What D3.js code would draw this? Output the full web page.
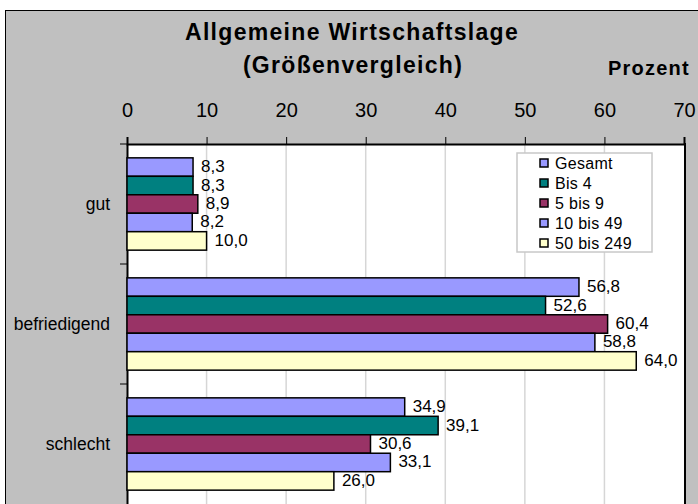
<!DOCTYPE html>
<html>
<head>
<meta charset="utf-8">
<script src="https://cdn.jsdelivr.net/npm/d3@7/dist/d3.min.js"></script>
<style>
body { margin: 0; background: #fff; }
text { font-family: "Liberation Sans", Arial, sans-serif; }
</style>
</head>
<body>
<div class="container"></div>
<script>
var categories = ['gut', 'befriedigend', 'schlecht'];
var seriesNames = ['Gesamt', 'Bis 4', '5 bis 9', '10 bis 49', '50 bis 249'];
var seriesColors = ['#9999ff', '#008080', '#993366', '#9999ff', '#ffffcc'];
var gesamt = [8.3, 56.8, 34.9];
var bis4 = [8.3, 52.6, 39.1];
var bis9 = [8.9, 60.4, 30.6];
var bis49 = [8.2, 58.8, 33.1];
var bis249 = [10.0, 64.0, 26.0];
var tickValues = [0, 10, 20, 30, 40, 50, 60, 70];

var seriesValues = [gesamt, bis4, bis9, bis49, bis249];

var width = 698,
	height = 504;

var svg = d3
	.select('.container')
	.append('svg')
	.attr('width', width)
	.attr('height', height);

// chart area
svg.append('rect')
	.attr('x', 5.5)
	.attr('y', 10.5)
	.attr('width', 700)
	.attr('height', 500)
	.attr('fill', '#c0c0c0')
	.attr('stroke', '#000')
	.attr('stroke-width', 1);

var x = d3.scaleLinear().domain([0, 70]).range([127, 684]);
var y = d3.scaleBand().domain(categories).range([144, 504]);
var inner = d3
	.scaleBand()
	.domain(d3.range(seriesNames.length))
	.range([0, y.bandwidth()])
	.paddingOuter(0.75)
	.paddingInner(0);

// plot area
svg.append('rect')
	.attr('x', x(0))
	.attr('y', 144)
	.attr('width', x(70) - x(0))
	.attr('height', 370)
	.attr('fill', '#fff');

// gridlines
svg.append('g')
	.selectAll('line')
	.data(tickValues.slice(1, -1))
	.enter()
	.append('line')
	.attr('x1', function(d) { return x(d); })
	.attr('x2', function(d) { return x(d); })
	.attr('y1', 144)
	.attr('y2', 504)
	.attr('stroke', '#d6d6d6')
	.attr('stroke-width', 1.5);

// top axis
var topAxis = svg
	.append('g')
	.attr('transform', 'translate(0,144)')
	.call(d3.axisTop(x).tickValues(tickValues).tickSize(7).tickPadding(20));
topAxis.select('.domain').attr('stroke', '#000').attr('stroke-width', 2);
topAxis.selectAll('.tick line').attr('stroke', '#000');
topAxis.selectAll('.tick text')
	.attr('font-size', 20)
	.attr('fill', '#000')
	.style('font-family', '"Liberation Sans", Arial, sans-serif');

// left axis
var leftAxis = svg
	.append('g')
	.attr('transform', 'translate(' + x(0) + ',0)')
	.call(d3.axisLeft(y).tickSize(0).tickPadding(17));
leftAxis.select('.domain').attr('stroke', '#000').attr('stroke-width', 2);
leftAxis.selectAll('.tick text')
	.attr('font-size', 17.5)
	.attr('fill', '#000')
	.style('font-family', '"Liberation Sans", Arial, sans-serif');

// category separator ticks
svg.append('g')
	.selectAll('line')
	.data(categories)
	.enter()
	.append('line')
	.attr('x1', x(0) - 7)
	.attr('x2', x(0))
	.attr('y1', function(d) { return y(d); })
	.attr('y2', function(d) { return y(d); })
	.attr('stroke', '#000');

// right border
svg.append('line')
	.attr('x1', x(70) + 1)
	.attr('x2', x(70) + 1)
	.attr('y1', 143)
	.attr('y2', 504)
	.attr('stroke', '#000')
	.attr('stroke-width', 2);

// bars
var rows = [];
categories.forEach(function(c, ci) {
	seriesValues.forEach(function(vals, si) {
		rows.push({ category: c, series: si, value: vals[ci] });
	});
});

var bars = svg.append('g');
bars.selectAll('rect')
	.data(rows)
	.enter()
	.append('rect')
	.attr('x', x(0))
	.attr('y', function(d) { return y(d.category) + inner(d.series); })
	.attr('width', function(d) { return x(d.value) - x(0); })
	.attr('height', inner.bandwidth())
	.attr('fill', function(d) { return seriesColors[d.series]; })
	.attr('stroke', '#000')
	.attr('stroke-width', 1.5);

bars.selectAll('text')
	.data(rows)
	.enter()
	.append('text')
	.attr('x', function(d) { return x(d.value) + 8; })
	.attr('y', function(d) { return y(d.category) + inner(d.series) + inner.bandwidth() / 2 + 5; })
	.attr('font-size', 17)
	.text(function(d) { return d.value.toFixed(1).replace('.', ','); });

// titles
svg.append('text')
	.attr('x', 352)
	.attr('y', 40)
	.attr('text-anchor', 'middle')
	.attr('font-size', 23)
	.attr('font-weight', 'bold')
	.attr('letter-spacing', 1.3)
	.text('Allgemeine Wirtschaftslage');
svg.append('text')
	.attr('x', 353)
	.attr('y', 73)
	.attr('text-anchor', 'middle')
	.attr('font-size', 23)
	.attr('font-weight', 'bold')
	.attr('letter-spacing', 1.3)
	.text('(Größenvergleich)');
svg.append('text')
	.attr('x', 608)
	.attr('y', 75)
	.attr('font-size', 20)
	.attr('font-weight', 'bold')
	.attr('letter-spacing', 1.2)
	.text('Prozent');

// legend
var legend = svg.append('g').attr('transform', 'translate(517,153)');
legend.append('rect')
	.attr('width', 135)
	.attr('height', 99)
	.attr('fill', '#fff')
	.attr('stroke', '#c8c8c8')
	.attr('stroke-width', 1.5);
var items = legend
	.selectAll('g')
	.data(seriesNames)
	.enter()
	.append('g')
	.attr('transform', function(d, i) { return 'translate(23,' + (10 + i * 20) + ')'; });
items.append('rect')
	.attr('x', 0)
	.attr('y', -4)
	.attr('width', 8)
	.attr('height', 8)
	.attr('fill', function(d, i) { return seriesColors[i]; })
	.attr('stroke', '#000')
	.attr('stroke-width', 1.5);
items.append('text')
	.attr('x', 15)
	.attr('y', 6)
	.attr('font-size', 16)
	.attr('letter-spacing', 0.3)
	.text(function(d) { return d; });
</script>
</body>
</html>
